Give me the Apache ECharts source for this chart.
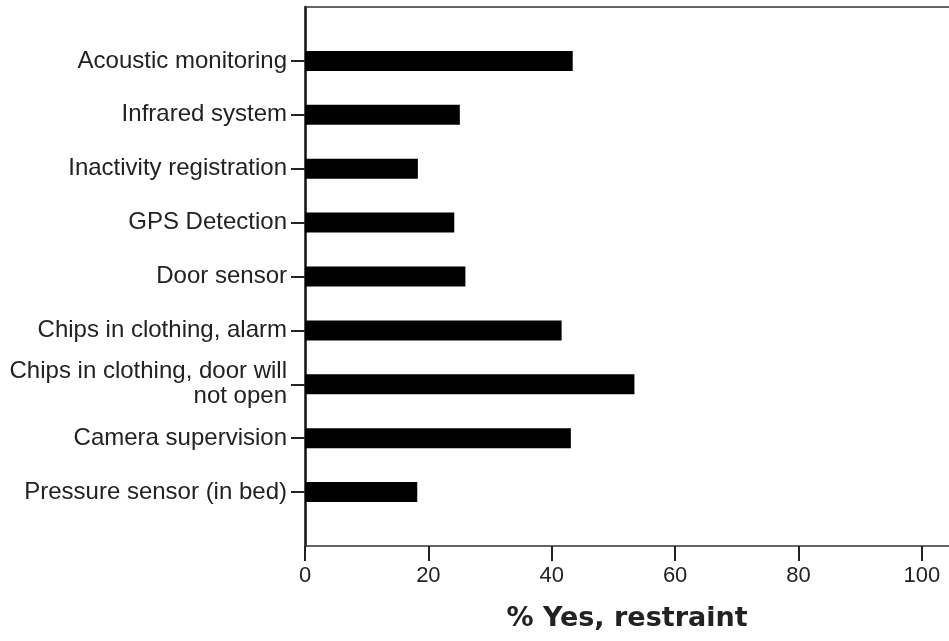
<!DOCTYPE html>
<html>
<head>
    <meta charset="utf-8">
    <title>Restraint</title>
    <script src="https://cdn.jsdelivr.net/npm/echarts@6/dist/echarts.min.js"></script>
    <style>
        html, body { margin: 0; padding: 0; background: #fff; }
        #chart { width: 949px; height: 641px; }
    </style>
</head>
<body>
    <div id="chart"></div>
    <script>
        // top to bottom
        var categories = [
            'Acoustic monitoring',
            'Infrared system',
            'Inactivity registration',
            'GPS Detection',
            'Door sensor',
            'Chips in clothing, alarm',
            'Chips in clothing, door will\nnot open',
            'Camera supervision',
            'Pressure sensor (in bed)'
        ];
        var values = [43.4, 25.1, 18.3, 24.2, 26.0, 41.6, 53.4, 43.1, 18.2];
        var xTicks = [0, 20, 40, 60, 80, 100];

        // empty slot above and below, like the original plot
        var yData = [''].concat(categories, ['']);
        var barData = ['-'].concat(values, ['-']);

        var chart = echarts.init(document.getElementById('chart'));
        chart.setOption({
            animation: false,
            grid: { left: 305, right: 0, top: 7, bottom: 95 },
            xAxis: [{
                type: 'value',
                min: 0,
                max: 104.4,
                splitLine: { show: false },
                axisLine: { show: true, lineStyle: { color: '#333', width: 1.5 } },
                axisTick: { show: true, customValues: xTicks, length: 15, lineStyle: { color: '#222', width: 2 } },
                axisLabel: {
                    customValues: xTicks,
                    color: '#222',
                    fontFamily: 'Liberation Sans',
                    fontSize: 22,
                    margin: 19
                },
                name: '% Yes, restraint',
                nameLocation: 'middle',
                nameGap: 59,
                nameTextStyle: {
                    color: '#222',
                    fontFamily: 'DejaVu Sans',
                    fontWeight: 'bold',
                    fontSize: 27
                }
            }, {
                type: 'value',
                position: 'top',
                min: 0,
                max: 104.4,
                splitLine: { show: false },
                axisLine: { show: true, lineStyle: { color: '#333', width: 1.5 } },
                axisTick: { show: false },
                axisLabel: { show: false }
            }],
            yAxis: {
                type: 'category',
                data: yData,
                inverse: true,
                boundaryGap: false,
                axisLine: { show: true, lineStyle: { color: '#111', width: 2.5 } },
                axisTick: {
                    show: true,
                    length: 14,
                    interval: function (i) { return i > 0 && i < yData.length - 1; },
                    lineStyle: { color: '#222', width: 2 }
                },
                axisLabel: {
                    interval: 0,
                    color: '#222',
                    fontFamily: 'Liberation Sans',
                    fontSize: 24,
                    lineHeight: 25,
                    align: 'right',
                    margin: 18
                }
            },
            series: [{
                type: 'bar',
                data: barData,
                barWidth: 20,
                itemStyle: { color: '#000' }
            }]
        });
    </script>
</body>
</html>
